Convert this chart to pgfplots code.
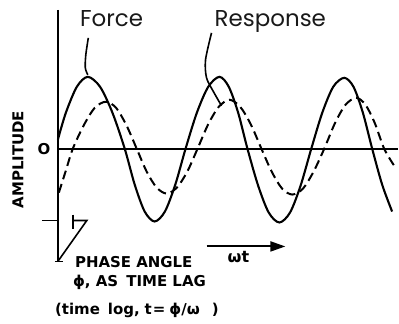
\documentclass[border=0pt]{standalone}
\usepackage{pgfplots}
\pgfplotsset{compat=1.18}
\usepackage{fontspec}
\setmainfont{Liberation Sans}
\newfontfamily\pop{Poppins}
\newfontfamily\dv{DejaVu Sans}
\usetikzlibrary{arrows.meta}
\begin{document}
\begin{tikzpicture}
\begin{axis}[
  x=1pt, y=1pt,
  xmin=-58, xmax=341, ymin=-175, ymax=149,
  hide axis, clip=false,
  scale only axis,
]
\addplot[draw=none] coordinates {(-58,-175) (341,149)};
\coordinate (O) at (axis cs:0,0);
% axes
\addplot[black, line width=1.8pt] coordinates {(0,139) (0,-113)};
\addplot[black, line width=1.8pt] coordinates {(0,0) (341,0)};
% force
\addplot[black, line width=2.1pt, smooth] coordinates {
(0,9) (8,36) (19,62) (30,72) (42.3,62) (54.7,36) (67,0) (77,-36) (87,-63) (97,-73)
(107.3,-63) (117.7,-36) (128,0) (139.3,36) (150.7,62) (162,72) (171.3,62) (180.7,36)
(190,0) (200.7,-37) (211.3,-64) (222,-74) (232.7,-64) (243.3,-37) (254,0) (265,36)
(276,62) (287,71) (296.3,62) (305.7,36) (315,0) (325,-36) (335,-63)};
% response
\addplot[black, line width=2pt, smooth, dash pattern=on 9pt off 5pt] coordinates {
(1,-44) (8,-22) (15,0) (26,23.5) (37,41) (48,47) (58.3,41) (68.7,23.5) (79,0) (89,-23)
(99,-39) (109,-45) (119.3,-39) (129.7,-23) (140,0) (150.7,24.5) (161.3,42) (172,49)
(182.7,42) (193.3,24.5) (204,0) (214.3,-23) (224.7,-40) (235,-46) (245.7,-40)
(256.3,-23) (267,0) (277.7,25.5) (288.3,44) (299,51) (308.3,44) (317.7,25.5) (327,0) (337,-17)};
% leaders
\addplot[black, line width=1.6pt, smooth] coordinates {(30.5,111) (28,94) (27.5,81) (30,74)};
\addplot[black, line width=1.6pt, smooth] coordinates {(154,116) (148,89) (149,71) (156,57) (164,43)};
\end{axis}
\begin{scope}[shift={(O)}, x=1pt, y=1pt]
\node[anchor=base west, inner sep=0pt, text=black!90] at (22,122) {\pop\fontsize{23}{27}\selectfont Force};
\node[anchor=base west, inner sep=0pt, text=black!90] at (157,122) {\pop\fontsize{23}{27}\selectfont Response};
\node[rotate=90, inner sep=0pt] at (-40,-11) {\dv\fontsize{15}{18}\selectfont\bfseries AMPLITUDE};
\node[inner sep=0pt] at (-14,0) {\dv\fontsize{15}{18}\selectfont\bfseries O};
\draw[line width=1.6pt] (-16,-72) -- (0,-72);
\draw[line width=1.6pt] (15,-66) -- (15,-81);
\draw[line width=1.6pt] (15,-72) -- (29,-72) -- (0,-113);
\draw[line width=1.6pt] (-3,-113) -- (5,-113);
\draw[line width=2pt, -{Triangle[length=15pt,width=10pt]}] (149,-98) -- (228,-98);
\node[anchor=base west, inner sep=0pt] at (170,-114) {\dv\fontsize{16}{18}\selectfont\bfseries ωt};
\node[anchor=base west, inner sep=0pt] at (17,-119) {\dv\fontsize{15}{18}\selectfont\bfseries PHASE ANGLE};
\node[anchor=base west, inner sep=0pt] at (15,-138) {\dv\fontsize{15}{18}\selectfont\bfseries ϕ, AS\hspace{3pt} TIME LAG};
\node[anchor=base west, inner sep=0pt] at (-3,-166) {\dv\fontsize{15}{18}\selectfont\bfseries (time\hspace{8pt}log,\hspace{5pt}t\hspace{1pt}=\hspace{4pt}ϕ/ω\hspace{12pt})};
\end{scope}
\end{tikzpicture}
\end{document}
